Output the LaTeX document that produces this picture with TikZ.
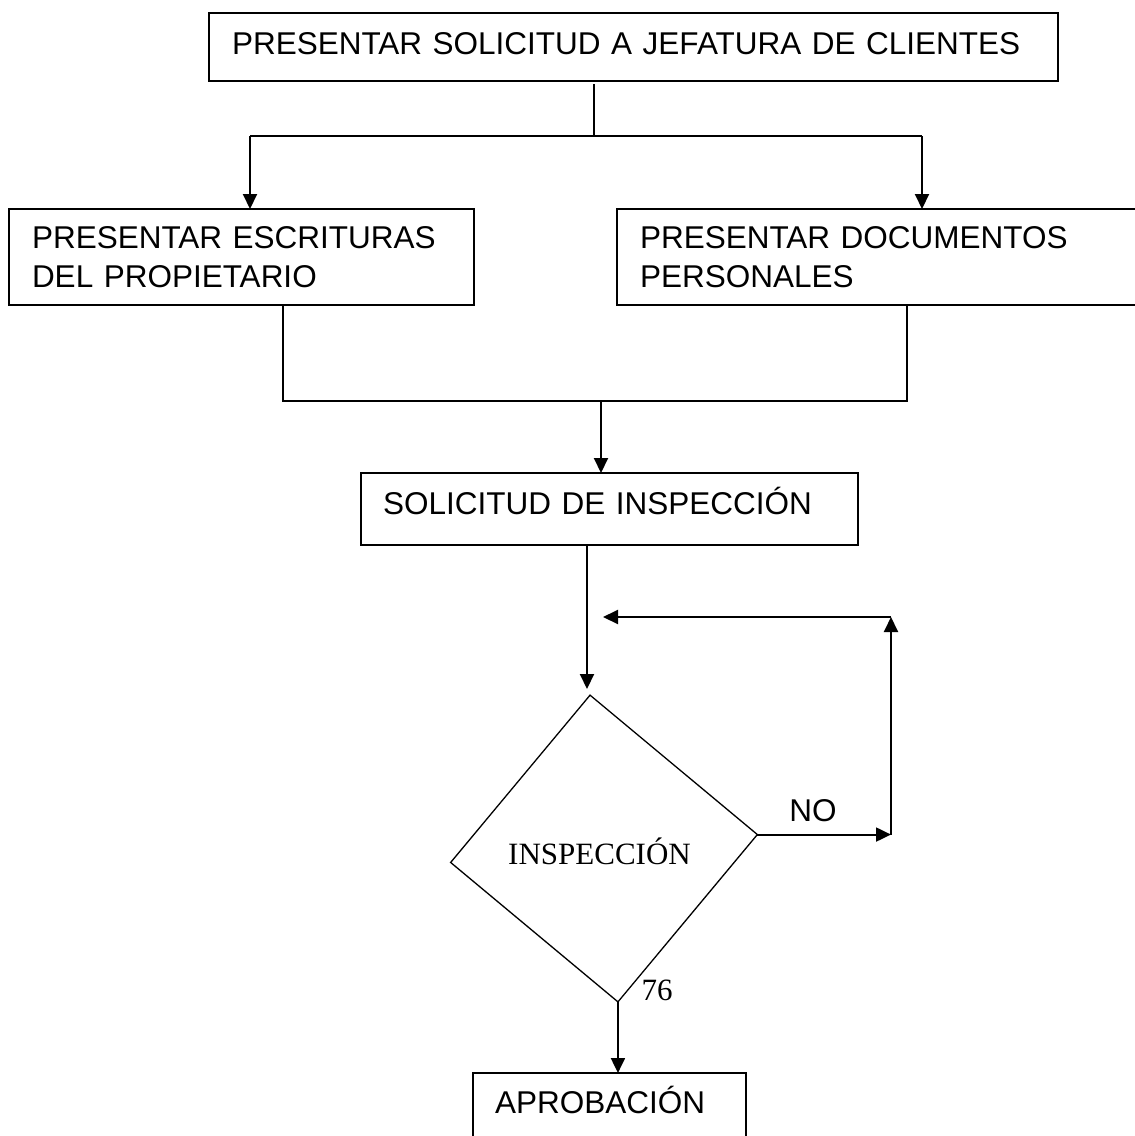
\documentclass[tikz,border=0pt]{standalone}
\usepackage{fontspec}
\setmainfont{Liberation Sans}
\newfontfamily\serifrm{Liberation Serif}
\usetikzlibrary{arrows.meta,shapes.geometric}
\begin{document}
\begin{tikzpicture}[x=1pt,y=-1pt,>={Triangle[length=15pt,width=14pt]},line width=2pt,
  caja/.style={draw,rectangle,anchor=north west,inner ysep=0pt,outer sep=0pt,align=left,font=\fontsize{31.5}{39}\selectfont},
  rotulo/.style={anchor=base,inner sep=0pt}]
\useasboundingbox (0,0) rectangle (1135,1136);
\clip (0,0) rectangle (1135,1136);
\node[caja,inner xsep=23pt,text width=803pt,text height=41pt,text depth=27pt](presentar) at (209,13){PRESENTAR SOLICITUD A JEFATURA DE CLIENTES};
\node[caja,inner xsep=23pt,text width=419pt,text height=39pt,text depth=57pt](escrituras) at (9,209){PRESENTAR ESCRITURAS\\DEL PROPIETARIO};
\node[caja,inner xsep=23pt,text width=482pt,text height=39pt,text depth=57pt](documentos) at (617,209){PRESENTAR DOCUMENTOS\\PERSONALES};
\node[caja,inner xsep=22pt,text width=453pt,text height=41pt,text depth=31pt](solicitud) at (361,473){SOLICITUD DE INSPECCIÓN};
\node[caja,inner xsep=22pt,text width=229pt,text height=40pt,text depth=37pt](aprobacion) at (473,1073){APROBACIÓN};
\node[diamond,draw,line width=1.3pt,inner sep=0pt,outer sep=0pt,minimum width=308pt,minimum height=308pt,rotate=5.2](inspeccion) at (604,848.5){};
\node[rotulo,font=\serifrm\fontsize{31}{37}\selectfont](txtinsp) at (599.5,864){INSPECCIÓN};
\node[rotulo,font=\serifrm\fontsize{31}{37}\selectfont](pagina) at (657,1000){76};
\node[rotulo,font=\fontsize{31.5}{39}\selectfont](no) at (813,821){NO};
\coordinate (r0) at (594,136);
\coordinate (r1) at (250,136);
\coordinate (r2) at (922,136);
\draw[shorten <=3pt](presentar.south -| r0)--(r0);
\draw(r1)--(r2);
\draw[->](r1)--(r1 |- escrituras.north);
\draw[->](r2)--(r2 |- documentos.north);
\coordinate (u0) at (601,401);
\coordinate (u1) at (283,401);
\coordinate (u2) at (907,401);
\draw(u1 |- escrituras.south)--(u1)--(u2)--(u2 |- documentos.south);
\draw[->](u0)--(u0 |- solicitud.north);
\coordinate (v0) at (587,689);
\draw[->](solicitud.south -| v0)--(v0);
\coordinate (w1) at (891,617);
\coordinate (w2) at (603,617);
\draw[->](inspeccion.east)--(inspeccion.east -| w1);
\draw[->](inspeccion.east -| w1)--(w1);
\draw[->](w1)--(w2);
\draw[->](inspeccion.south)--(inspeccion.south |- aprobacion.north);
\end{tikzpicture}
\end{document}
